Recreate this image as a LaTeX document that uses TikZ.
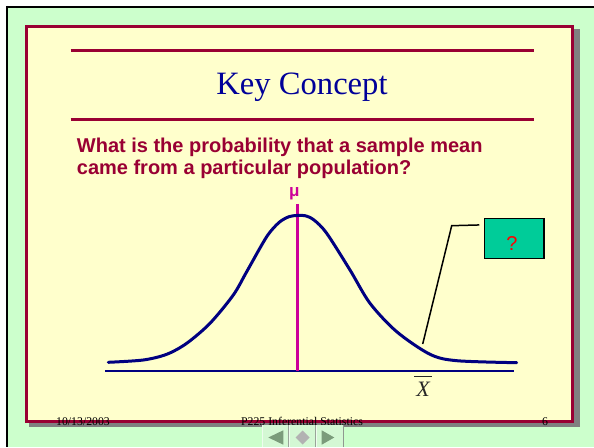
\documentclass[tikz,border=0pt]{standalone}
\usepackage{fontspec}
\setmainfont{Liberation Serif}
\newfontfamily\arialfont{Liberation Sans}
\definecolor{bggreen}{HTML}{CCFFCC}
\definecolor{slideyellow}{HTML}{FFFFCC}
\definecolor{maroon}{HTML}{990033}
\definecolor{titleblue}{HTML}{000099}
\definecolor{curveblue}{HTML}{000080}
\definecolor{mumag}{HTML}{CC0099}
\definecolor{boxgreen}{HTML}{00CC99}
\definecolor{navgreen}{HTML}{D4F8D4}
\definecolor{navtri}{HTML}{7B9B7B}
\tikzset{
  rulebar/.style={draw=maroon, line width=3pt},
  qtext/.style={anchor=base west, inner sep=0pt, text=maroon, font=\arialfont\bfseries\fontsize{20}{22.7}\selectfont},
  foot/.style={anchor=base, inner sep=0pt, text=black, font=\fontsize{11.8}{13}\selectfont},
  qbox/.style={draw=black, line width=1.5pt, fill=boxgreen, minimum width=59.7pt, minimum height=40pt, inner sep=0pt},
}
\begin{document}
\begin{tikzpicture}[x=1pt,y=1pt]
\useasboundingbox (0,0) rectangle (594,447);
\fill[white] (0,0) rectangle (594,447);
\fill[bggreen] (8,0) rectangle (594,439);
\draw[black, line width=2pt] (6,440) -- (594,440);
\draw[black, line width=2pt] (7,441) -- (7,0);
% slide shadow and frame
\fill[gray] (29,20) rectangle (580,418);
\draw[maroon, line width=3pt, fill=slideyellow] (26.2,25.8) rectangle (572.5,420.8);
% rules
\draw[rulebar] (70.7,396) -- (534,396);
\draw[rulebar] (70.7,327) -- (534,327);
% title
\node[anchor=base, inner sep=0pt, text=titleblue, font=\fontsize{32.6}{36}\selectfont] (title) at (302,352.7) {Key Concept};
% question
\node[qtext] (q1) at (76.7,294.7) {What is the probability that a sample mean};
\node[qtext] (q2) at (76.7,272) {came from a particular population?};
% mu
\node[anchor=base, inner sep=0pt, text=mumag, font=\arialfont\bfseries\fontsize{17}{20}\selectfont] (mu) at (294.3,250.2) {μ};
% axis
\coordinate (axl) at (105,75.7);
\coordinate (axr) at (514,75.7);
\draw[curveblue, line width=1.6pt] (axl) -- (axr);
% mean line
\coordinate (mtop) at (297.3,243);
\coordinate (mbot) at (297.3,76.3);
\draw[mumag, line width=2.4pt] (mtop) -- (mbot);
% curve
\draw[curveblue, line width=3pt, line cap=round, line join=round] plot[smooth, tension=0.5] coordinates {
(108.3,84.7) (143.3,87) (166.7,92.7) (186.7,103.7) (210,123.7) (233.3,152) (246.7,175.3) (266.7,210.3) (279,224.5) (289,230.3) (297,231.5) (305,231.3) (314,227) (326.7,213.7) (350,177) (370,143.7) (396.7,115.3) (430,92.7) (456.7,86.3) (516.7,84.3)};
% callout box
\node[qbox, label={[text=red, font=\arialfont\fontsize{20}{22}\selectfont, inner sep=0pt, xshift=-2.15pt, yshift=-5pt]center:?}] (qb) at (514.15,208.7) {};
\coordinate (tip) at (422.7,103);
\draw[black, line width=1.5pt] ([xshift=-4.3pt,yshift=-7.4pt]qb.north west) -- (451.7,221.3) -- (tip);
% X bar
\node[inner sep=0pt, text=black!85, font=\itshape\fontsize{22}{24}\selectfont] (xbar) at (423,57.8) {X};
\draw[black!85, line width=0.9pt] ([xshift=-8.7pt,yshift=5pt]xbar.north) -- ([xshift=9.3pt,yshift=5pt]xbar.north);
% footer
\node[foot] (fdate) at (83,22) {10/13/2003};
\node[foot] (ftitle) at (302,22) {P225 Inferential Statistics};
\node[foot] (fnum) at (545,22) {6};
% navigation buttons
\fill[navgreen] (261.7,0) rectangle (343.3,21.7);
\draw[white!60!navgreen, line width=0.8pt] (262.1,0) -- (262.1,21.7);
\draw[white!60!navgreen, line width=0.8pt] (289.3,0) -- (289.3,21.7);
\draw[gray!70!navgreen, line width=0.6pt] (288.5,0) -- (288.5,21.7);
\draw[white!60!navgreen, line width=0.8pt] (316.4,0) -- (316.4,21.7);
\draw[gray!70!navgreen, line width=0.6pt] (315.6,0) -- (315.6,21.7);
\draw[gray!80!navgreen, line width=0.8pt] (343.3,0) -- (343.3,21.7);
\fill[navtri] (268.3,9.5) -- (283.3,16.7) -- (283.3,2.3) -- cycle;
\fill[gray!60] (302.7,16.5) -- (309.7,9.5) -- (302.7,2.5) -- (295.7,9.5) -- cycle;
\fill[navtri] (334.3,9.5) -- (321.7,16.7) -- (321.7,2.3) -- cycle;
\end{tikzpicture}
\end{document}
